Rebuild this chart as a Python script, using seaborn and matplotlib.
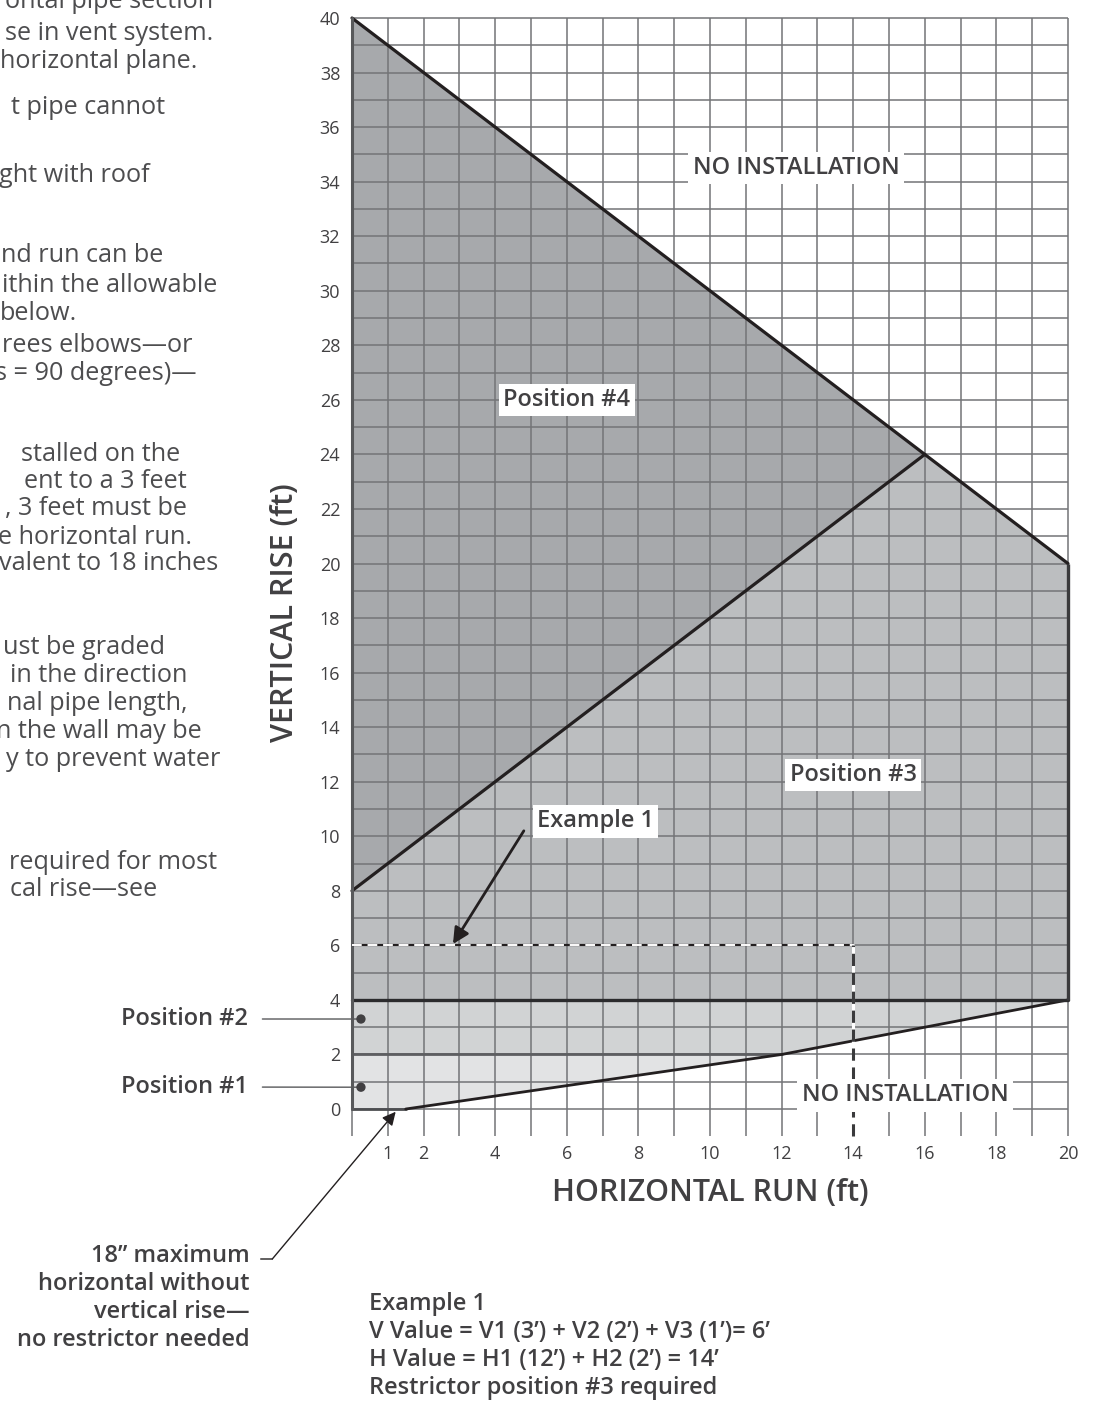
import matplotlib
matplotlib.use("Agg")
import matplotlib.pyplot as plt
import seaborn as sns
import numpy as np
import pandas as pd

# chart values (feet)
run_ticks = [1, 2, 4, 6, 8, 10, 12, 14, 16, 18, 20]
rise_ticks = list(range(0, 41, 2))
max_run = 20
max_rise = 40

# upper limit: 40 ft rise at 0 run down to 20 ft rise at 20 ft run
limit_run = [0, 16, 20]
limit_rise = [40, 24, 20]
# split between position #4 and #3
pos4_run = [0, 16]
pos4_rise = [8, 24]
# lower limit of positions #1/#2
low_run = [1.5, 12, 20]
low_rise = [0, 2, 4]
pos2_top = 4
pos1_top = 2

# example 1
ex_run = 14
ex_rise = 6
dot_run = [0.25, 0.25]
dot_rise = [3.3, 0.8]

notes = [
    "ontal pipe section", "se in vent system.", "horizontal plane.", "t pipe cannot",
    "ght with roof", "nd run can be", "ithin the allowable", "below.",
    "rees elbows\u2014or", "s = 90 degrees)\u2014", "stalled on the", "ent to a 3 feet",
    ", 3 feet must be", "e horizontal run.", "valent to 18 inches", "ust be graded",
    "in the direction", "nal pipe length,", "n the wall may be", "y to prevent water",
    "required for most", "cal rise\u2014see",
]
notes_right = [213, 213, 197, 165, 150, 163, 217, 77, 193, 197, 180, 187,
               187, 192, 218, 165, 187, 187, 202, 220, 217, 157]
notes_y = [2, 33, 62, 108, 175, 255, 285, 314, 345, 373, 455, 482,
           509, 537, 564, 648, 676, 704, 732, 760, 862, 889]

sns.set_theme(style="white")
plt.rcParams["font.family"] = ["Open Sans", "DejaVu Sans"]

W, H = 1098, 1406
fig = plt.figure(figsize=(W / 100, H / 100), dpi=100)
ax = fig.add_axes([352 / W, 1 - 1136.3 / H, 716 / W, (1136.3 - 18) / H])
ax.set_xlim(0, max_run)
ax.set_ylim(-1, max_rise)
for s in ax.spines.values():
    s.set_visible(False)

txt = "#414042"
grid_c = "#737477"
dark = "#231f20"

# filled regions
ax.fill([0, 0, pos4_run[1], 0], [pos4_rise[0], max_rise, pos4_rise[1], pos4_rise[0]],
        color="#a7a9ac", lw=0, zorder=1)
ax.fill([0, 0] + limit_run[1:] + [max_run],
        [pos2_top, pos4_rise[0]] + limit_rise[1:] + [pos2_top],
        color="#bcbec0", lw=0, zorder=1)
ax.fill([0, 0, max_run, low_run[1]], [pos1_top, pos2_top, pos2_top, low_rise[1]],
        color="#d1d3d4", lw=0, zorder=1)
ax.fill([0, 0, low_run[1], low_run[0]], [0, pos1_top, low_rise[1], 0],
        color="#e2e3e4", lw=0, zorder=1)

# grid
ax.vlines(np.arange(0, max_run + 1), -1, max_rise, color=grid_c, lw=1.1, zorder=2, clip_on=False)
ax.hlines(np.arange(0, max_rise + 1), 0, max_run, color=grid_c, lw=1.1, zorder=2, clip_on=False)

# boundaries
kw = dict(ax=ax, sort=False, estimator=None, legend=False)
sns.lineplot(x=[0, max_run], y=[limit_rise[0], limit_rise[-1]], color=dark, lw=2.3, zorder=4, **kw)
sns.lineplot(x=pos4_run, y=pos4_rise, color=dark, lw=2.3, zorder=4, **kw)
sns.lineplot(x=low_run, y=low_rise, color=dark, lw=2.0, zorder=4, **kw)
sns.lineplot(x=[0, max_run], y=[pos2_top, pos2_top], color="#2b2b2d", lw=2.4, zorder=4, **kw)
sns.lineplot(x=[0, low_run[1]], y=[pos1_top, pos1_top], color="#5d5e61", lw=2.0, zorder=3, **kw)
sns.lineplot(x=[0, low_run[0]], y=[0, 0], color="#4d4e51", lw=2.0, zorder=3, **kw)
ax.plot([max_run, max_run], [pos2_top, limit_rise[-1]], color="#3a3a3c", lw=2.4, zorder=4,
        clip_on=False, solid_capstyle="butt")
ax.plot([0, 0], [0, max_rise], color="#58595b", lw=2.2, zorder=4, clip_on=False)
for l in ax.lines:
    l.set_clip_on(False)

# example 1 dashed guides
ax.plot([0, ex_run], [ex_rise, ex_rise], color=dark, lw=1.6, zorder=5)
ax.plot([0, ex_run], [ex_rise, ex_rise], color="white", lw=1.4, zorder=5, dashes=(5, 3))
ax.plot([ex_run, ex_run], [-1, ex_rise], color="white", lw=2.2, zorder=5, clip_on=False)
ax.plot([ex_run, ex_run], [-1, ex_rise], color="#3a3a3c", lw=2.2, zorder=5, dashes=(4, 2.2),
        clip_on=False)

sns.scatterplot(x=dot_run, y=dot_rise, ax=ax, color="#414042", s=45, zorder=6,
                edgecolor="none", legend=False)

# axes text
ax.set_yticks(rise_ticks)
ax.set_xticks(run_ticks)
ax.set_xticklabels([str(t) for t in run_ticks])
ax.tick_params(axis="y", length=0, pad=8.5, labelsize=13, labelcolor=txt)
ax.tick_params(axis="x", length=0, pad=6, labelsize=13, labelcolor=txt)
ax.set_xlabel("HORIZONTAL RUN (ft)", fontsize=22, color=txt, fontweight="semibold")
ax.set_ylabel("VERTICAL RISE (ft)", fontsize=22, color=txt, fontweight="semibold")
ax.xaxis.set_label_coords(0.5, -0.0507)
ax.xaxis.label.set_va("center")
ax.yaxis.set_label_coords(-0.094, 0.468)
ax.yaxis.label.set_va("center")

box = dict(boxstyle="square,pad=0.18", fc="white", ec="none")
lab = dict(fontsize=17, color=txt, fontweight="semibold", ha="center", va="center",
           bbox=box, zorder=7)
ax.text(6.0, 26.0, "Position #4", **lab)
ax.text(14.0, 12.25, "Position #3", **lab)
ax.text(12.4, 34.5, "NO INSTALLATION", **lab)
ax.text(15.45, 0.5, "NO INSTALLATION", **lab)
ax.text(6.8, 10.55, "Example 1", **lab)
ax.annotate("", xy=(2.82, 6.05), xytext=(4.8, 10.2),
            arrowprops=dict(arrowstyle="-|>", color=dark, lw=2.0, mutation_scale=24,
                            shrinkA=0, shrinkB=0), zorder=7)

# left position labels
for name, ry, py in [("Position #2", dot_rise[0], 1019), ("Position #1", dot_rise[1], 1087)]:
    ax.annotate(name, xy=(dot_run[0], ry), xytext=(248, H - py), textcoords="figure pixels",
                ha="right", va="center", fontsize=17, color=txt, fontweight="semibold",
                annotation_clip=False,
                arrowprops=dict(arrowstyle="-", color="#58595b", lw=1.0, shrinkA=8, shrinkB=0))

# 18 inch note
ax.annotate("", xy=(1.22, -0.1), xytext=(272.3, H - 1259), textcoords="figure pixels",
            annotation_clip=False,
            arrowprops=dict(arrowstyle="-|>", color=dark, lw=1.0, mutation_scale=20,
                            shrinkA=0, shrinkB=0))
ax.annotate("", xy=(272.3, H - 1259), xycoords="figure pixels", xytext=(260.7, H - 1259),
            textcoords="figure pixels",
            arrowprops=dict(arrowstyle="-", color=dark, lw=1.0, shrinkA=0, shrinkB=0))
fig.text(250 / W, 1 - 1244 / H,
         "18\u201d maximum\nhorizontal without\nvertical rise\u2014\nno restrictor needed",
         ha="right", va="top", multialignment="right", fontsize=17, color=txt,
         fontweight="semibold", linespacing=1.22)
fig.text(369 / W, 1 - 1292 / H,
         "Example 1\nV Value = V1 (3\u2019) + V2 (2\u2019) + V3 (1\u2019)= 6\u2019\n"
         "H Value = H1 (12\u2019) + H2 (2\u2019) = 14\u2019\nRestrictor position #3 required",
         ha="left", va="top", fontsize=17, color=txt, fontweight="semibold", linespacing=1.22)

# cropped paragraph text on the left
for s, xr, y in zip(notes, notes_right, notes_y):
    fig.text(xr / W, 1 - y / H, s, ha="right", va="center", fontsize=18.2, color="#4d4d4f")

fig.savefig("out.png", dpi=100)
